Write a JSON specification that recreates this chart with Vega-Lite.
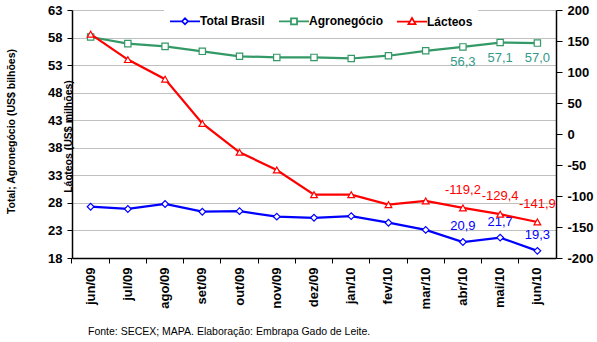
{
  "$schema": "https://vega.github.io/schema/vega-lite/v6.json",
  "width": 484,
  "height": 248,
  "autosize": {"type": "none"},
  "padding": {"left": 72, "top": 10, "right": 41, "bottom": 84},
  "background": "white",
  "config": {
    "view": {"stroke": null},
    "font": "Liberation Sans",
    "locale": {"number": {"decimal": ",", "thousands": ".", "grouping": [3], "currency": ["R$ ", ""], "minus": "-"}},
    "axis": {"labelFont": "Liberation Sans", "labelFontSize": 13, "labelFontWeight": "bold", "labelColor": "black", "domainColor": "black", "tickColor": "black", "titleFont": "Liberation Sans", "titleColor": "black"}
  },
  "title": {"text": "Fonte: SECEX; MAPA. Elaboração: Embrapa Gado de Leite.", "orient": "bottom", "anchor": "start", "frame": "group", "fontSize": 10.5, "fontWeight": "normal", "font": "Liberation Sans", "color": "black", "dx": 16, "offset": 18},
  "datasets": {
    "d": [
      {"month": "jun/09", "series": "Total Brasil", "value": 27.3},
      {"month": "jul/09", "series": "Total Brasil", "value": 26.9},
      {"month": "ago/09", "series": "Total Brasil", "value": 27.8},
      {"month": "set/09", "series": "Total Brasil", "value": 26.4},
      {"month": "out/09", "series": "Total Brasil", "value": 26.5},
      {"month": "nov/09", "series": "Total Brasil", "value": 25.5},
      {"month": "dez/09", "series": "Total Brasil", "value": 25.3},
      {"month": "jan/10", "series": "Total Brasil", "value": 25.6},
      {"month": "fev/10", "series": "Total Brasil", "value": 24.4},
      {"month": "mar/10", "series": "Total Brasil", "value": 23.1},
      {"month": "abr/10", "series": "Total Brasil", "value": 20.9},
      {"month": "mai/10", "series": "Total Brasil", "value": 21.7},
      {"month": "jun/10", "series": "Total Brasil", "value": 19.3},
      {"month": "jun/09", "series": "Agronegócio", "value": 58.1},
      {"month": "jul/09", "series": "Agronegócio", "value": 56.9},
      {"month": "ago/09", "series": "Agronegócio", "value": 56.4},
      {"month": "set/09", "series": "Agronegócio", "value": 55.5},
      {"month": "out/09", "series": "Agronegócio", "value": 54.6},
      {"month": "nov/09", "series": "Agronegócio", "value": 54.4},
      {"month": "dez/09", "series": "Agronegócio", "value": 54.4},
      {"month": "jan/10", "series": "Agronegócio", "value": 54.2},
      {"month": "fev/10", "series": "Agronegócio", "value": 54.7},
      {"month": "mar/10", "series": "Agronegócio", "value": 55.6},
      {"month": "abr/10", "series": "Agronegócio", "value": 56.3},
      {"month": "mai/10", "series": "Agronegócio", "value": 57.1},
      {"month": "jun/10", "series": "Agronegócio", "value": 57.0},
      {"month": "jun/09", "series": "Lácteos", "value": 161},
      {"month": "jul/09", "series": "Lácteos", "value": 120},
      {"month": "ago/09", "series": "Lácteos", "value": 88.5},
      {"month": "set/09", "series": "Lácteos", "value": 17},
      {"month": "out/09", "series": "Lácteos", "value": -29.5},
      {"month": "nov/09", "series": "Lácteos", "value": -58},
      {"month": "dez/09", "series": "Lácteos", "value": -97.9},
      {"month": "jan/10", "series": "Lácteos", "value": -97.9},
      {"month": "fev/10", "series": "Lácteos", "value": -114},
      {"month": "mar/10", "series": "Lácteos", "value": -108},
      {"month": "abr/10", "series": "Lácteos", "value": -119.2},
      {"month": "mai/10", "series": "Lácteos", "value": -129.4},
      {"month": "jun/10", "series": "Lácteos", "value": -141.9}
    ]
  },
  "data": {"name": "d"},
  "encoding": {
    "x": {
      "field": "month", "type": "ordinal",
      "sort": ["jun/09","jul/09","ago/09","set/09","out/09","nov/09","dez/09","jan/10","fev/10","mar/10","abr/10","mai/10","jun/10"],
      "scale": {"type": "band", "paddingInner": 0, "paddingOuter": 0},
      "bandPosition": 0.5,
      "axis": {"title": null, "labelAngle": -90, "bandPosition": 0, "grid": false, "tickSize": 5, "labelPadding": 4, "domainWidth": 1.5}
    }
  },
  "layer": [
    {
      "transform": [{"filter": "datum.series !== 'Lácteos'"}],
      "encoding": {
        "y": {
          "field": "value", "type": "quantitative",
          "scale": {"domain": [18, 63], "nice": false, "zero": false},
          "axis": {"orient": "left", "values": [18,23,28,33,38,43,48,53,58,63], "grid": true, "gridColor": "#C0C0C0", "gridWidth": 1, "tickSize": 5, "labelPadding": 5, "domainWidth": 1.5,
                   "title": "Total; Agronegócio (US$ bilhões)", "titleFontSize": 10.5, "titleFontWeight": "bold", "titleAngle": 270, "titleBaseline": "middle", "titleX": -61, "titleY": 121}
        }
      },
      "layer": [
        {
          "mark": {"type": "line", "strokeWidth": 2.25},
          "encoding": {
            "color": {
              "field": "series", "type": "nominal",
              "scale": {"domain": ["Total Brasil", "Agronegócio", "Lácteos"], "range": ["#0000FF", "#339966", "#FF0000"]},
              "legend": {
                "orient": "none", "legendX": 92, "legendY": 0, "direction": "horizontal", "title": null,
                "fillColor": "white", "padding": 5, "columnPadding": 10,
                "labelFont": "Liberation Sans", "labelFontSize": 12, "labelFontWeight": "bold", "labelColor": "black",
                "symbolSize": 100, "symbolStrokeWidth": 1.75, "labelOffset": 19, "symbolType": "M-1,0H5",
                "encode": {"symbols": {"update": {
                  "shape": {"signal": "datum.value === 'Total Brasil' ? 'M-1,0H1.4M2.6,0H5M1.4,0L2,-0.6L2.6,0L2,0.6Z' : (datum.value === 'Agronegócio' ? 'M-1,0H1.4M2.6,0H5M1.4,-0.6H2.6V0.6H1.4Z' : 'M-1,0H1.6M2.4,0H5M1.3,0.5L2,-0.7L2.7,0.5Z')"},
                  "fill": {"value": "white"}
                }}}
              }
            }
          }
        },
        {
          "transform": [{"filter": "datum.series === 'Total Brasil'"}],
          "mark": {"type": "point", "shape": "diamond", "filled": false, "fill": "white", "fillOpacity": 1, "stroke": "#0000FF", "strokeWidth": 1.2, "size": 45, "opacity": 1}
        },
        {
          "transform": [{"filter": "datum.series === 'Agronegócio'"}],
          "mark": {"type": "point", "shape": "square", "filled": false, "fill": "white", "fillOpacity": 1, "stroke": "#339966", "strokeWidth": 1.2, "size": 40, "opacity": 1}
        },
        {
          "transform": [{"filter": "datum.series === 'Total Brasil' && indexof(['abr/10','mai/10','jun/10'], datum.month) >= 0"}],
          "mark": {"type": "text", "fontSize": 13, "font": "Liberation Sans", "dy": -16, "fill": "#0000FF"},
          "encoding": {
            "text": {"field": "value", "type": "quantitative", "format": ".1f"}
          }
        },
        {
          "transform": [{"filter": "datum.series === 'Agronegócio' && indexof(['abr/10','mai/10','jun/10'], datum.month) >= 0"}],
          "mark": {"type": "text", "fontSize": 13, "font": "Liberation Sans", "dy": 15, "fill": "#339988"},
          "encoding": {
            "text": {"field": "value", "type": "quantitative", "format": ".1f"}
          }
        }
      ]
    },
    {
      "transform": [{"filter": "datum.series === 'Lácteos'"}],
      "encoding": {
        "y": {
          "field": "value", "type": "quantitative",
          "scale": {"domain": [-200, 200], "nice": false, "zero": false},
          "axis": {"orient": "right", "values": [-200,-150,-100,-50,0,50,100,150,200], "grid": false, "tickSize": 6, "labelPadding": 5, "domainWidth": 1.5, "format": "d",
                   "title": "Lácteos (US$ milhões)", "titleFontSize": 10.5, "titleFontWeight": "bold", "titleAngle": 270, "titleBaseline": "middle", "titleX": -488, "titleY": 126}
        }
      },
      "layer": [
        {
          "mark": {"type": "line", "strokeWidth": 2.25, "stroke": "#FF0000"}
        },
        {
          "mark": {"type": "point", "shape": "triangle-up", "filled": false, "fill": "white", "fillOpacity": 1, "stroke": "#FF0000", "strokeWidth": 1.2, "size": 45, "opacity": 1}
        },
        {
          "transform": [{"filter": "indexof(['abr/10','mai/10','jun/10'], datum.month) >= 0"}],
          "mark": {"type": "text", "fontSize": 13, "font": "Liberation Sans", "dy": -18, "fill": "#FF0000"},
          "encoding": {
            "text": {"field": "value", "type": "quantitative", "format": ".1f"}
          }
        }
      ]
    }
  ],
  "resolve": {"scale": {"y": "independent"}}
}
